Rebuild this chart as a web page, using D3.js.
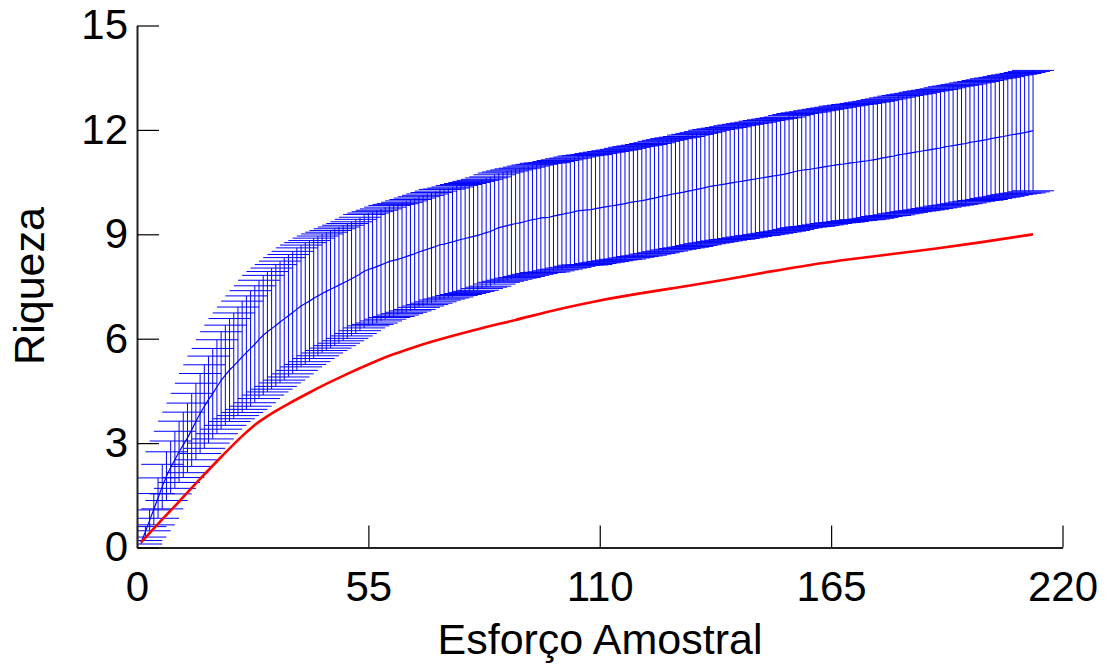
<!DOCTYPE html>
<html>
<head>
<meta charset="utf-8">
<script src="https://cdn.jsdelivr.net/npm/d3@7"></script>
<style>
  body { margin: 0; background: #fff; }
  text { font-family: "Liberation Sans", Arial, Helvetica, sans-serif; }
</style>
</head>
<body>
<svg id="chart" width="1107" height="664"></svg>
<script>
// Mean richness per sampling effort (1 .. 213 samples)
const riquezaMedia = [
  0.15,0.45,0.78,1.10,1.42,1.75,2.05,2.30,2.52,2.75,
  2.95,3.15,3.38,3.62,3.85,4.05,4.25,4.42,4.62,4.80,
  4.95,5.10,5.22,5.35,5.48,5.60,5.72,5.84,5.98,6.10,
  6.20,6.29,6.38,6.48,6.57,6.66,6.75,6.85,6.94,7.01,
  7.08,7.16,7.23,7.30,7.36,7.42,7.48,7.54,7.60,7.66,
  7.72,7.79,7.86,7.94,7.99,8.03,8.07,8.12,8.17,8.22,
  8.25,8.28,8.32,8.36,8.40,8.44,8.49,8.53,8.57,8.61,
  8.65,8.70,8.72,8.75,8.78,8.82,8.85,8.88,8.91,8.94,
  8.97,9.01,9.05,9.08,9.14,9.19,9.22,9.25,9.28,9.31,
  9.33,9.36,9.39,9.42,9.44,9.47,9.48,9.49,9.52,9.55,
  9.57,9.60,9.62,9.65,9.68,9.69,9.70,9.71,9.74,9.76,
  9.78,9.80,9.82,9.84,9.86,9.88,9.91,9.93,9.95,9.97,
  9.99,10.02,10.04,10.07,10.10,10.12,10.15,10.17,10.19,10.21,
  10.24,10.26,10.29,10.31,10.34,10.37,10.39,10.41,10.43,10.45,
  10.47,10.49,10.51,10.53,10.55,10.57,10.59,10.61,10.63,10.65,
  10.67,10.69,10.71,10.73,10.76,10.79,10.82,10.84,10.86,10.87,
  10.89,10.91,10.93,10.95,10.97,10.99,11.01,11.02,11.04,11.06,
  11.07,11.09,11.10,11.12,11.14,11.16,11.19,11.21,11.23,11.25,
  11.28,11.30,11.32,11.34,11.36,11.38,11.40,11.42,11.44,11.46,
  11.48,11.51,11.53,11.55,11.57,11.59,11.61,11.64,11.66,11.68,
  11.70,11.72,11.75,11.77,11.79,11.81,11.84,11.86,11.88,11.90,
  11.92,11.95,11.98
];

// Standard deviation of richness for each sampling effort
const desvioPadrao = [
  0.05,0.15,0.30,0.45,0.58,0.64,0.70,0.76,0.82,0.88,
  0.94,1.00,1.05,1.10,1.15,1.20,1.25,1.30,1.35,1.40,
  1.44,1.48,1.52,1.56,1.60,1.63,1.66,1.68,1.70,1.72,
  1.73,1.74,1.75,1.75,1.76,1.76,1.76,1.76,1.75,1.75,
  1.74,1.73,1.72,1.71,1.70,1.69,1.68,1.67,1.66,1.65,
  1.64,1.64,1.63,1.63,1.62,1.62,1.62,1.61,1.61,1.61,
  1.61,1.60,1.60,1.60,1.60,1.60,1.59,1.59,1.59,1.59,
  1.59,1.59,1.58,1.58,1.58,1.58,1.58,1.58,1.58,1.58,
  1.58,1.57,1.57,1.57,1.57,1.57,1.57,1.57,1.57,1.57,
  1.57,1.57,1.57,1.57,1.57,1.57,1.57,1.57,1.57,1.57,
  1.57,1.57,1.57,1.57,1.57,1.57,1.58,1.58,1.58,1.58,
  1.58,1.58,1.58,1.58,1.58,1.59,1.59,1.59,1.59,1.59,
  1.59,1.59,1.59,1.60,1.60,1.60,1.60,1.60,1.60,1.60,
  1.61,1.61,1.61,1.61,1.61,1.62,1.62,1.62,1.62,1.62,
  1.62,1.63,1.63,1.63,1.63,1.63,1.63,1.64,1.64,1.64,
  1.64,1.64,1.64,1.64,1.65,1.65,1.65,1.65,1.65,1.65,
  1.66,1.66,1.66,1.66,1.66,1.66,1.67,1.67,1.67,1.67,
  1.67,1.67,1.68,1.68,1.68,1.68,1.68,1.68,1.69,1.69,
  1.69,1.69,1.69,1.69,1.69,1.70,1.70,1.70,1.70,1.70,
  1.70,1.70,1.71,1.71,1.71,1.71,1.71,1.71,1.71,1.71,
  1.72,1.72,1.72,1.72,1.72,1.72,1.72,1.72,1.72,1.72,
  1.73,1.73,1.73
];

// Observed richness curve (red)
const esforcoObs = [1,5,10,15,20,25,28,32,36,40,45,50,55,60,65,70,80,90,100,110,120,130,140,150,160,170,180,190,200,213];
const riquezaObs = [0.15,0.68,1.32,1.97,2.60,3.20,3.52,3.85,4.13,4.39,4.70,4.99,5.26,5.51,5.72,5.91,6.24,6.54,6.84,7.10,7.31,7.50,7.70,7.92,8.12,8.29,8.44,8.59,8.76,9.00];

const xTicks = [0, 55, 110, 165, 220];
const yTicks = [0, 3, 6, 9, 12, 15];

const amostras = d3.range(1, riquezaMedia.length + 1);

const svg = d3.select('#chart');
const x = d3.scaleLinear().domain([0, 220]).range([137, 1062.5]);
const y = d3.scaleLinear().domain([0, 15]).range([547.5, 25.5]);

// clip region = plotting area
svg.append('defs').append('clipPath').attr('id', 'area')
  .append('rect')
  .attr('x', x(0)).attr('y', 0)
  .attr('width', 1107 - x(0)).attr('height', y(0) + 1);

const capHalf = x(5) - x(0);
const azul = '#0000ff';

const barras = svg.append('g').attr('clip-path', 'url(#area)')
  .attr('stroke', azul).attr('stroke-width', 1).attr('fill', 'none');

const pts = amostras.map((a, i) => ({
  a, m: riquezaMedia[i],
  lo: Math.max(0, riquezaMedia[i] - desvioPadrao[i]),
  hi: riquezaMedia[i] + desvioPadrao[i]
}));

// vertical error bars
barras.selectAll('line.v').data(pts).join('line').attr('class', 'v')
  .attr('x1', d => x(d.a)).attr('x2', d => x(d.a))
  .attr('y1', d => y(d.lo)).attr('y2', d => y(d.hi));
// caps
barras.selectAll('line.top').data(pts).join('line').attr('class', 'top')
  .attr('x1', d => x(d.a) - capHalf).attr('x2', d => x(d.a) + capHalf)
  .attr('y1', d => y(d.hi)).attr('y2', d => y(d.hi));
barras.selectAll('line.bot').data(pts).join('line').attr('class', 'bot')
  .attr('x1', d => x(d.a) - capHalf).attr('x2', d => x(d.a) + capHalf)
  .attr('y1', d => y(d.lo)).attr('y2', d => y(d.lo));

// mean curve
svg.append('path').datum(pts)
  .attr('fill', 'none').attr('stroke', azul).attr('stroke-width', 1.2)
  .attr('d', d3.line().x(d => x(d.a)).y(d => y(d.m)));

// observed curve
svg.append('path').datum(esforcoObs.map((e, i) => [e, riquezaObs[i]]))
  .attr('fill', 'none').attr('stroke', '#ff0000').attr('stroke-width', 2.6)
  .attr('stroke-linejoin', 'round')
  .attr('d', d3.line().x(d => x(d[0])).y(d => y(d[1])).curve(d3.curveMonotoneX));

// axes
const gx = svg.append('g').attr('transform', `translate(0,${y(0)})`)
  .call(d3.axisBottom(x).tickValues(xTicks).tickFormat(d3.format('d'))
    .tickSizeInner(-22).tickSizeOuter(0).tickPadding(24));
const gy = svg.append('g').attr('transform', `translate(${x(0)},0)`)
  .call(d3.axisLeft(y).tickValues(yTicks).tickFormat(d3.format('d'))
    .tickSizeInner(-22).tickSizeOuter(0).tickPadding(9));

[gx, gy].forEach(g => {
  g.select('.domain').attr('stroke', '#222').attr('stroke-width', 2);
  g.selectAll('.tick line').attr('stroke', '#000').attr('stroke-width', 1.2);
  g.selectAll('.tick text').attr('fill', '#000')
    .style('font-family', '"Liberation Sans", Arial, sans-serif')
    .style('font-size', '42px');
});

// axis titles
svg.append('text')
  .attr('x', 600).attr('y', 654)
  .attr('text-anchor', 'middle').attr('font-size', 43).attr('fill', '#000')
  .text('Esforço Amostral');
svg.append('text')
  .attr('transform', 'translate(44,286) rotate(-90)')
  .attr('text-anchor', 'middle').attr('font-size', 43).attr('fill', '#000')
  .text('Riqueza');
</script>
</body>
</html>
